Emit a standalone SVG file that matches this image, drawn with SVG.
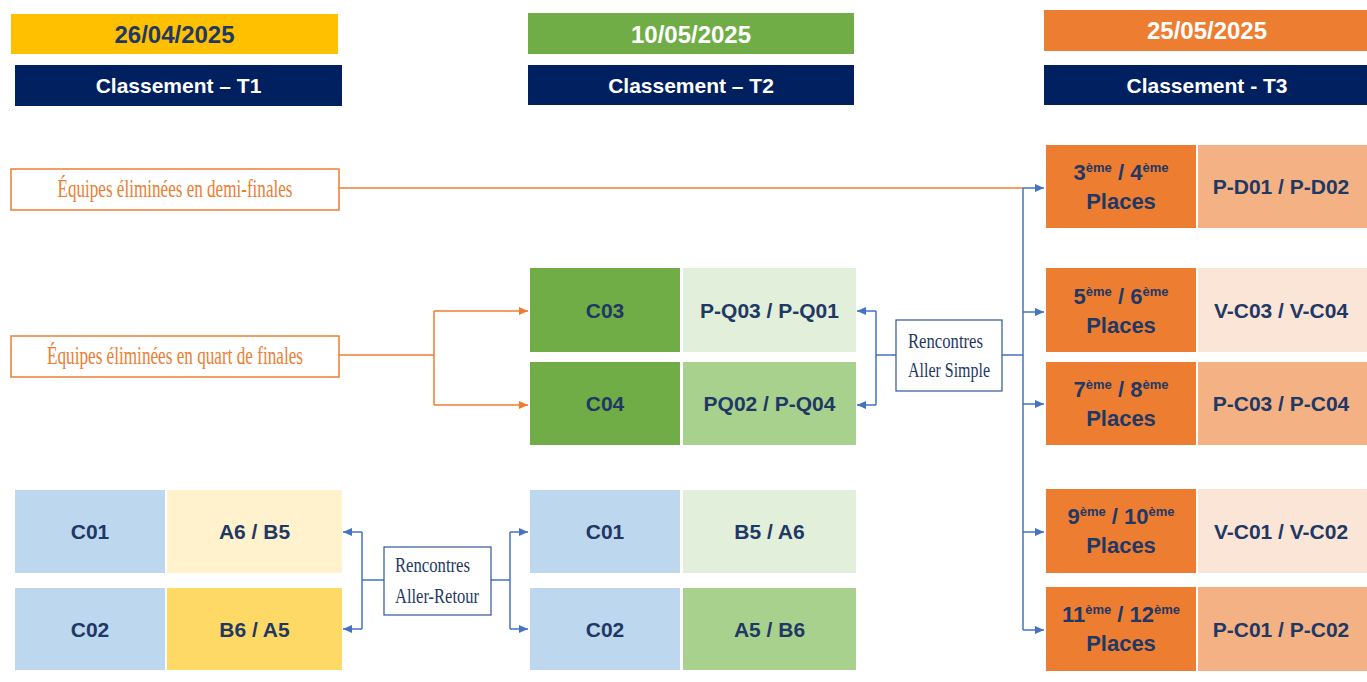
<svg xmlns="http://www.w3.org/2000/svg" width="1367" height="682" viewBox="0 0 1367 682">
<defs>
<marker id="ab" markerWidth="9" markerHeight="8" refX="9" refY="4" orient="auto" markerUnits="userSpaceOnUse"><path d="M0,0 L9,4 L0,8 z" fill="#4472C4"/></marker>
<marker id="ao" markerWidth="9" markerHeight="8" refX="9" refY="4" orient="auto" markerUnits="userSpaceOnUse"><path d="M0,0 L9,4 L0,8 z" fill="#ED7D31"/></marker>
<style>
.t{font-family:"Liberation Sans",Arial,sans-serif;font-weight:bold;font-size:21px;fill:#1F3864;text-anchor:middle}
.d{font-family:"Liberation Sans",Arial,sans-serif;font-weight:bold;font-size:24px;text-anchor:middle}
.h{font-family:"Liberation Sans",Arial,sans-serif;font-weight:bold;font-size:21px;fill:#FFFFFF;text-anchor:middle}
.p{font-family:"Liberation Sans",Arial,sans-serif;font-weight:bold;font-size:22px;fill:#1F3864;text-anchor:middle}
.sup{font-size:13px}
.lab{font-family:"Liberation Serif","Times New Roman",serif;font-size:25px;fill:#ED7D31;text-anchor:middle}
.ren{font-family:"Liberation Serif","Times New Roman",serif;font-size:22px;fill:#1F3864}
.ob{fill:#FFFFFF;stroke:#ED7D31;stroke-width:1.5}
.rb{fill:#FFFFFF;stroke:#2F5597;stroke-width:1.2}
.cb{fill:none;stroke:#4472C4;stroke-width:1.5}
.co{fill:none;stroke:#ED7D31;stroke-width:1.5}
</style>
</defs>

<g id="header-t1">
<rect x="11" y="14" width="327" height="40" fill="#FFC000"/>
<text class="d" x="174.5" y="43" fill="#1F3864">26/04/2025</text>
<rect x="15" y="65" width="327" height="41" fill="#002060"/>
<text class="h" x="178.5" y="93">Classement – T1</text>
</g>
<g id="header-t2">
<rect x="528" y="13" width="326" height="41" fill="#70AD47"/>
<text class="d" x="691" y="43" fill="#FFFFFF">10/05/2025</text>
<rect x="528" y="65" width="326" height="40" fill="#002060"/>
<text class="h" x="691" y="93">Classement – T2</text>
</g>
<g id="header-t3">
<rect x="1044" y="10" width="323" height="41" fill="#ED7D31"/>
<text class="d" x="1207" y="39" fill="#FFFFFF">25/05/2025</text>
<rect x="1044" y="65" width="323" height="40" fill="#002060"/>
<text class="h" x="1207" y="93">Classement - T3</text>
</g>

<g id="connectors">
<polyline class="co" points="339,188 1023,188"/>
<polyline class="co" points="339,355 434,355"/>
<polyline class="co" points="434,311 434,405"/>
<line class="co" x1="434" y1="311" x2="528" y2="311" marker-end="url(#ao)"/>
<line class="co" x1="434" y1="405" x2="528" y2="405" marker-end="url(#ao)"/>
<polyline class="cb" points="1023,188 1023,630"/>
<line class="cb" x1="1023" y1="188" x2="1044" y2="188" marker-end="url(#ab)"/>
<line class="cb" x1="1023" y1="312" x2="1044" y2="312" marker-end="url(#ab)"/>
<line class="cb" x1="1023" y1="404" x2="1044" y2="404" marker-end="url(#ab)"/>
<line class="cb" x1="1023" y1="532" x2="1044" y2="532" marker-end="url(#ab)"/>
<line class="cb" x1="1023" y1="630" x2="1044" y2="630" marker-end="url(#ab)"/>
<polyline class="cb" points="1002,355 1023,355"/>
<polyline class="cb" points="896,355 876,355"/>
<polyline class="cb" points="876,311 876,405"/>
<line class="cb" x1="876" y1="311" x2="857" y2="311" marker-end="url(#ab)"/>
<line class="cb" x1="876" y1="405" x2="857" y2="405" marker-end="url(#ab)"/>
<polyline class="cb" points="384,580 362,580"/>
<polyline class="cb" points="362,532 362,629"/>
<line class="cb" x1="362" y1="532" x2="343" y2="532" marker-end="url(#ab)"/>
<line class="cb" x1="362" y1="629" x2="343" y2="629" marker-end="url(#ab)"/>
<polyline class="cb" points="491,580 510,580"/>
<polyline class="cb" points="510,532 510,629"/>
<line class="cb" x1="510" y1="532" x2="528" y2="532" marker-end="url(#ab)"/>
<line class="cb" x1="510" y1="629" x2="528" y2="629" marker-end="url(#ab)"/>
</g>

<g id="label-demi">
<rect class="ob" x="11" y="169" width="328" height="41"/>
<text class="lab" x="175" y="197" textLength="235" lengthAdjust="spacingAndGlyphs">Équipes éliminées en demi-finales</text>
</g>
<g id="label-quart">
<rect class="ob" x="11" y="336" width="328" height="41"/>
<text class="lab" x="175" y="364" textLength="256" lengthAdjust="spacingAndGlyphs">Équipes éliminées en quart de finales</text>
</g>

<g id="rencontres-aller-simple">
<rect class="rb" x="896" y="320" width="106" height="71"/>
<text class="ren" x="908" y="348" textLength="75" lengthAdjust="spacingAndGlyphs">Rencontres</text>
<text class="ren" x="908" y="377" textLength="82" lengthAdjust="spacingAndGlyphs">Aller Simple</text>
</g>
<g id="rencontres-aller-retour">
<rect class="rb" x="384" y="547" width="107" height="68"/>
<text class="ren" x="395" y="572" textLength="75" lengthAdjust="spacingAndGlyphs">Rencontres</text>
<text class="ren" x="395" y="603" textLength="84" lengthAdjust="spacingAndGlyphs">Aller-Retour</text>
</g>

<g id="t1-c01">
<rect x="15" y="490" width="150" height="83" fill="#BDD7EE"/>
<rect x="167" y="490" width="175" height="83" fill="#FFF2CC"/>
<text class="t" x="90" y="539">C01</text>
<text class="t" x="254.5" y="539">A6 / B5</text>
</g>
<g id="t1-c02">
<rect x="15" y="588" width="150" height="82" fill="#BDD7EE"/>
<rect x="167" y="588" width="175" height="82" fill="#FFD966"/>
<text class="t" x="90" y="637">C02</text>
<text class="t" x="254.5" y="637">B6 / A5</text>
</g>

<g id="t2-c03">
<rect x="530" y="268" width="150" height="84" fill="#70AD47"/>
<rect x="683" y="268" width="173" height="84" fill="#E2EFDA"/>
<text class="t" x="605" y="318">C03</text>
<text class="t" x="769.5" y="318">P-Q03 / P-Q01</text>
</g>
<g id="t2-c04">
<rect x="530" y="362" width="150" height="83" fill="#70AD47"/>
<rect x="683" y="362" width="173" height="83" fill="#A9D18E"/>
<text class="t" x="605" y="411">C04</text>
<text class="t" x="769.5" y="411">PQ02 / P-Q04</text>
</g>
<g id="t2-c01">
<rect x="530" y="490" width="150" height="83" fill="#BDD7EE"/>
<rect x="683" y="490" width="173" height="83" fill="#E2EFDA"/>
<text class="t" x="605" y="539">C01</text>
<text class="t" x="769.5" y="539">B5 / A6</text>
</g>
<g id="t2-c02">
<rect x="530" y="588" width="150" height="82" fill="#BDD7EE"/>
<rect x="683" y="588" width="173" height="82" fill="#A9D18E"/>
<text class="t" x="605" y="637">C02</text>
<text class="t" x="769.5" y="637">A5 / B6</text>
</g>

<g id="t3-p3-4">
<rect x="1046" y="145" width="150" height="83" fill="#ED7D31"/>
<rect x="1198" y="145" width="169" height="83" fill="#F4B183"/>
<text class="p" x="1121" y="180">3<tspan class="sup" dy="-8">ème</tspan><tspan dy="8"> / 4</tspan><tspan class="sup" dy="-8">ème</tspan></text>
<text class="p" x="1121" y="209">Places</text>
<text class="t" x="1281" y="194">P-D01 / P-D02</text>
</g>
<g id="t3-p5-6">
<rect x="1046" y="268" width="150" height="84" fill="#ED7D31"/>
<rect x="1198" y="268" width="169" height="84" fill="#FBE5D6"/>
<text class="p" x="1121" y="304">5<tspan class="sup" dy="-8">ème</tspan><tspan dy="8"> / 6</tspan><tspan class="sup" dy="-8">ème</tspan></text>
<text class="p" x="1121" y="333">Places</text>
<text class="t" x="1281" y="318">V-C03 / V-C04</text>
</g>
<g id="t3-p7-8">
<rect x="1046" y="362" width="150" height="83" fill="#ED7D31"/>
<rect x="1198" y="362" width="169" height="83" fill="#F4B183"/>
<text class="p" x="1121" y="397">7<tspan class="sup" dy="-8">ème</tspan><tspan dy="8"> / 8</tspan><tspan class="sup" dy="-8">ème</tspan></text>
<text class="p" x="1121" y="426">Places</text>
<text class="t" x="1281" y="411">P-C03 / P-C04</text>
</g>
<g id="t3-p9-10">
<rect x="1046" y="489" width="150" height="84" fill="#ED7D31"/>
<rect x="1198" y="489" width="169" height="84" fill="#FBE5D6"/>
<text class="p" x="1121" y="524">9<tspan class="sup" dy="-8">ème</tspan><tspan dy="8"> / 10</tspan><tspan class="sup" dy="-8">ème</tspan></text>
<text class="p" x="1121" y="553">Places</text>
<text class="t" x="1281" y="539">V-C01 / V-C02</text>
</g>
<g id="t3-p11-12">
<rect x="1046" y="587" width="150" height="84" fill="#ED7D31"/>
<rect x="1198" y="587" width="169" height="84" fill="#F4B183"/>
<text class="p" x="1121" y="622">11<tspan class="sup" dy="-8">ème</tspan><tspan dy="8"> / 12</tspan><tspan class="sup" dy="-8">ème</tspan></text>
<text class="p" x="1121" y="651">Places</text>
<text class="t" x="1281" y="637">P-C01 / P-C02</text>
</g>
</svg>
